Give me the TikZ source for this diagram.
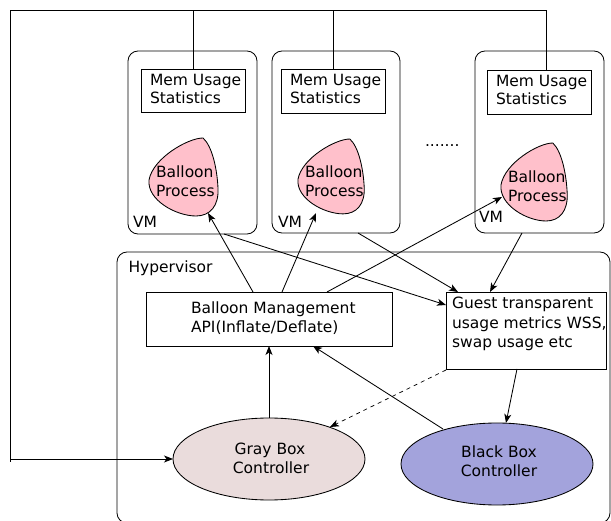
\documentclass[tikz,border=0pt]{standalone}
\usepackage{fontspec}
\setmainfont{DejaVu Sans}
\usetikzlibrary{arrows.meta,shapes.geometric}

\definecolor{balloonpink}{HTML}{FFC0CB}
\definecolor{grayctl}{HTML}{EADCDC}
\definecolor{blackctl}{HTML}{A3A3DC}

\tikzset{
  lbl/.style={anchor=base west, inner sep=0pt, outer sep=0pt},
  box/.style={draw, rectangle, anchor=north west, inner sep=0pt, outer sep=0pt},
  vmbox/.style={box, rounded corners=10pt},
  arr/.style={-{Stealth[length=9pt,width=7pt,inset=2.5pt]}},
  ctl/.style={draw, ellipse, inner sep=0pt, outer sep=0pt,
              minimum width=192pt, minimum height=82pt},
  balloonfill/.style={draw, fill=balloonpink},
}

% balloon outline: top-left corner of its box at (#1,#2), scaled by #3 / #4
\newcommand\balloonat[4]{%
  \begin{scope}[shift={(#1,#2)}, xscale=#3, yscale=#4]
    \path[balloonfill] (55,0) .. controls (40,0) and (5,20) .. (1,42)
      .. controls (-1,62) and (28,78) .. (48,78)
      .. controls (62,78) and (71,68) .. (70,50)
      .. controls (69,30) and (64,8) .. (55,0) -- cycle;
  \end{scope}}

\begin{document}
\begin{tikzpicture}[x=1pt, y=-1pt, line width=0.85pt,
  font=\fontsize{15.5}{19}\selectfont]
\useasboundingbox (0,0) rectangle (611,521);

% hypervisor frame (runs past the lower right edge)
\draw[rounded corners=10pt] (117,252) rectangle (610,523);
\node[lbl] (hv) at (128.5,273) {Hypervisor};

% virtual machines
\node[vmbox, minimum width=129pt, minimum height=183pt] (vm1) at (128,51) {};
\node[vmbox, minimum width=128pt, minimum height=182pt] (vm2) at (272,51) {};
\node[vmbox, minimum width=129pt, minimum height=182pt] (vm3) at (475,51) {};
\node[lbl] (vml1) at (133,228) {VM};
\node[lbl] (vml2) at (278,228) {VM};
\node[lbl] (vml3) at (479,223) {VM};

% memory statistics boxes
\node[box, minimum width=104pt, minimum height=43pt] (mem1) at (141,69) {};
\node[box, minimum width=104pt, minimum height=44pt] (mem2) at (281,69) {};
\node[box, minimum width=104pt, minimum height=44pt] (mem3) at (487,70) {};
\node[lbl] (m1a) at (150,86) {Mem Usage};
\node[lbl] (m1b) at (150,104) {Statistics};
\node[lbl] (m2a) at (290,86) {Mem Usage};
\node[lbl] (m2b) at (290,104) {Statistics};
\node[lbl] (m3a) at (496,87) {Mem Usage};
\node[lbl] (m3b) at (496,105) {Statistics};

% balloon processes
\balloonat{148}{138}{1}{1}
\balloonat{297}{139}{0.96}{0.96}
\balloonat{500}{143}{0.96}{1}
\node[lbl] (b1a) at (156,178) {Balloon};
\node[lbl] (b1b) at (156,197) {Process};
\node[lbl] (b2a) at (305,178) {Balloon};
\node[lbl] (b2b) at (305,197) {Process};
\node[lbl] (b3a) at (508,183) {Balloon};
\node[lbl] (b3b) at (508,202) {Process};
\coordinate (b1in) at (208,213);
\coordinate (b2in) at (316,213);
\coordinate (b3in) at (502,197);

\node[lbl] (dots) at (425,147) {.......};

% hypervisor components
\node[box, minimum width=246pt, minimum height=54pt] (api) at (146,292) {};
\node[lbl] (apia) at (191,314) {Balloon Management};
\node[lbl] (apib) at (191,333) {API(Inflate/Deflate)};

\node[box, minimum width=160pt, minimum height=77pt] (gst) at (446,292) {};
\node[lbl] (gsta) at (452,309) {Guest transparent};
\node[lbl] (gstb) at (452,329) {usage metrics WSS,};
\node[lbl] (gstc) at (452,348) {swap usage etc};

\node[ctl, fill=grayctl] (gray) at (269,459) {};
\node[anchor=base, inner sep=0pt] (graya) at (270,455) {Gray Box};
\node[anchor=base, inner sep=0pt] (grayb) at (271,474) {Controller};

\node[ctl, fill=blackctl] (black) at (497,464) {};
\node[anchor=base, inner sep=0pt] (blacka) at (499,457) {Black Box};
\node[anchor=base, inner sep=0pt] (blackb) at (499,476) {Controller};

% statistics collection bus
\coordinate (tl) at (10,10);
\coordinate (tr) at (546,10);
\coordinate (m3top) at (546,70);
\draw (mem1.north) -- (mem1.north |- tl);
\draw (mem2.north) -- (mem2.north |- tl);
\draw (m3top) -- (tr) -- (tl) -- (10,462);
\draw[arr] (tl |- gray.west) -- (gray.west);

% inflate / deflate requests
\coordinate (api1) at (253,292);
\coordinate (api2) at (282,292);
\coordinate (api3) at (327,292);
\draw[arr] (api1) -- (b1in);
\draw[arr] (api2) -- (b2in);
\draw[arr] (api3) -- (b3in);

% usage metrics from the VMs
\coordinate (v1o) at (224,234);
\coordinate (v2o) at (358,233);
\coordinate (v3o) at (522,233);
\draw[arr] (v1o) -- (gst.west |- 0,305);
\draw[arr] (v2o) -- (458,292);
\draw[arr] (v3o) -- (490,292);

% controllers
\draw[arr] (gray.north) -- (gray.north |- api.south);
\coordinate (blk) at (443,429);
\draw[arr] (blk) -- (313,346);
\coordinate (gbl) at (446,370);
\coordinate (grr) at (330,427);
\draw[arr, dash pattern=on 4pt off 4pt, line width=0.7pt] (gbl) -- (grr);
\coordinate (gbo) at (517,369);
\coordinate (bkt) at (506,423);
\draw[arr] (gbo) -- (bkt);
\end{tikzpicture}
\end{document}
